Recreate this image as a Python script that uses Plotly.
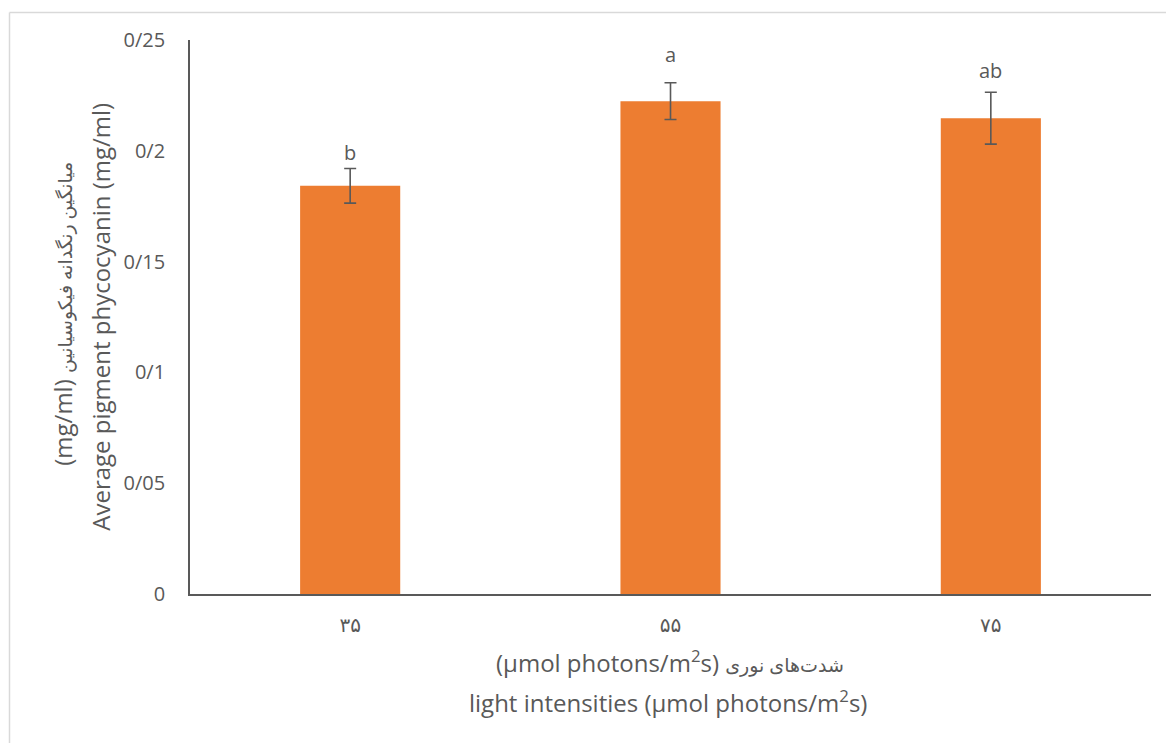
import plotly.graph_objects as go

# Mean phycocyanin content at three light intensities
categories = ["۳۵", "۵۵", "۷۵"]
means = [0.1842, 0.2224, 0.2147]
errors = [0.0078, 0.0083, 0.0117]
letters = ["b", "a", "ab"]

tick_vals = [0, 0.05, 0.1, 0.15, 0.2, 0.25]
tick_text = ["0", "0/05", "0/1", "0/15", "0/2", "0/25"]

W, H = 1166, 743
L, R, T, B = 190, 15, 40, 148.5
pw, ph = W - L - R, H - T - B

FONT = "Open Sans, DejaVu Sans, sans-serif"
TXT = "#595959"
TICK_SIZE = 20
TITLE_SIZE = 24
FA_SIZE = 19

fig = go.Figure()
fig.add_trace(go.Bar(
    x=categories, y=means,
    marker=dict(color="#ED7D31", line=dict(width=0)),
    error_y=dict(type="data", array=errors, visible=True,
                 color="#595959", thickness=1.6, width=6),
    width=0.3125,
    hoverinfo="x+y",
))

# significance letters above each error bar
label_shift = [16, 28, 22]
for c, m, e, t, s in zip(categories, means, errors, letters, label_shift):
    fig.add_annotation(x=c, y=m + e, text=t, showarrow=False,
                       xanchor="center", yanchor="middle", yshift=s,
                       font=dict(size=TICK_SIZE, color=TXT, family=FONT))

def px(xp):
    return (xp - L) / pw

def py(yp):
    return (H - B - yp) / ph

def fa(s):
    return f'<span style="font-size:{FA_SIZE}px">{s}</span>'

# axis titles
title_font = dict(size=TITLE_SIZE, color=TXT, family=FONT)
titles = [
    (670, 662, 0, "(µmol photons/m<sup>2</sup>s) " + fa("شدت‌های نوری")),
    (668, 702, 0, "light intensities (µmol photons/m<sup>2</sup>s)"),
    (63, 314, -90, "(mg/ml) " + fa("میانگین رنگدانه فیکوسیانین")),
    (101, 317, -90, "Average pigment phycocyanin (mg/ml)"),
]
for xp, yp, ang, txt in titles:
    fig.add_annotation(xref="paper", yref="paper", x=px(xp), y=py(yp),
                       xanchor="center", yanchor="middle",
                       text=txt, textangle=ang, showarrow=False,
                       font=title_font)

# chart-area border (top and left edges)
fig.add_shape(type="line", xref="paper", yref="paper",
              x0=px(9.5), x1=px(W + 5), y0=py(12.5), y1=py(12.5),
              line=dict(color="#D9D9D9", width=1.5))
fig.add_shape(type="line", xref="paper", yref="paper",
              x0=px(9.5), x1=px(9.5), y0=py(12.5), y1=py(H + 5),
              line=dict(color="#D9D9D9", width=1.5))

fig.update_layout(
    width=W, height=H,
    margin=dict(l=L, r=R, t=T, b=B, pad=0),
    paper_bgcolor="white", plot_bgcolor="white",
    showlegend=False,
    font=dict(family=FONT, size=TICK_SIZE, color=TXT),
    bargap=0.6875,
)
fig.update_xaxes(
    showline=True, linecolor="#595959", linewidth=1.8,
    ticks="", showgrid=False, ticklabelstandoff=12,
    tickfont=dict(size=TICK_SIZE, color=TXT, family=FONT),
)
fig.update_yaxes(
    range=[0, 0.25], tickvals=tick_vals, ticktext=tick_text,
    showline=True, linecolor="#595959", linewidth=1.8,
    ticks="", showgrid=False, zeroline=False, ticklabelstandoff=19,
    tickfont=dict(size=TICK_SIZE, color=TXT, family=FONT),
)

fig.write_html("out.html")
